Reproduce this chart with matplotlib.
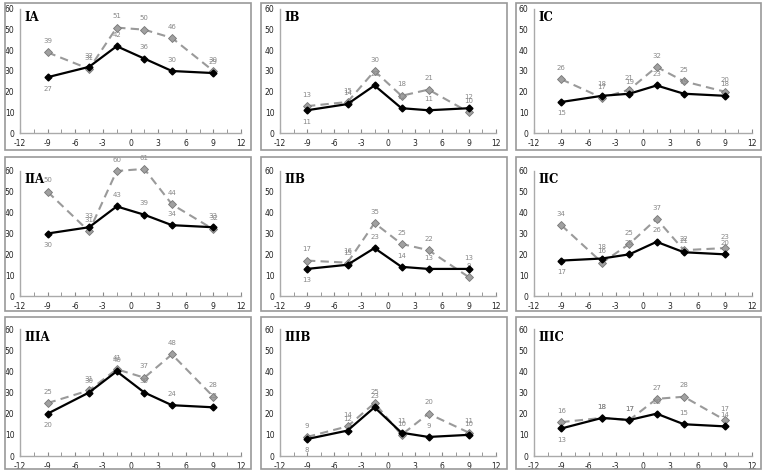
import matplotlib
matplotlib.use("Agg")
import matplotlib.pyplot as plt
from matplotlib.patches import Rectangle

plt.rcParams["axes.unicode_minus"] = False

x_pos = [-9, -4.5, -1.5, 1.5, 4.5, 9]
panel_names = ["IA", "IB", "IC", "IIA", "IIB", "IIC", "IIIA", "IIIB", "IIIC"]

solid_IA = [27, 32, 42, 36, 30, 29]
dashed_IA = [39, 31, 51, 50, 46, 30]
solid_IB = [11, 14, 23, 12, 11, 12]
dashed_IB = [13, 15, 30, 18, 21, 10]
solid_IC = [15, 18, 19, 23, 19, 18]
dashed_IC = [26, 17, 21, 32, 25, 20]
solid_IIA = [30, 33, 43, 39, 34, 33]
dashed_IIA = [50, 31, 60, 61, 44, 32]
solid_IIB = [13, 15, 23, 14, 13, 13]
dashed_IIB = [17, 16, 35, 25, 22, 9]
solid_IIC = [17, 18, 20, 26, 21, 20]
dashed_IIC = [34, 16, 25, 37, 22, 23]
solid_IIIA = [20, 30, 40, 30, 24, 23]
dashed_IIIA = [25, 31, 41, 37, 48, 28]
solid_IIIB = [8, 12, 23, 11, 9, 10]
dashed_IIIB = [9, 14, 25, 10, 20, 11]
solid_IIIC = [13, 18, 17, 20, 15, 14]
dashed_IIIC = [16, 18, 17, 27, 28, 17]

solids = [solid_IA, solid_IB, solid_IC, solid_IIA, solid_IIB, solid_IIC,
          solid_IIIA, solid_IIIB, solid_IIIC]
dasheds = [dashed_IA, dashed_IB, dashed_IC, dashed_IIA, dashed_IIB, dashed_IIC,
           dashed_IIIA, dashed_IIIB, dashed_IIIC]

W, H = 765, 473
fig = plt.figure(figsize=(W / 100, H / 100), dpi=100)
fig.patch.set_facecolor("white")

# pixel layout
cols = [(5, 251, 20, 241), (261, 507, 280, 496), (516, 761, 534, 752)]
rows = [(3, 150, 9, 133), (157, 311, 171, 296), (317, 469, 329, 456)]

for i, name in enumerate(panel_names):
    r, c = divmod(i, 3)
    bl, br, al, ar = cols[c]
    bt, bb, at, ab = rows[r]
    fig.patches.append(Rectangle((bl / W, 1 - bb / H), (br - bl) / W, (bb - bt) / H,
                                 transform=fig.transFigure, fill=False,
                                 edgecolor="#999999", lw=1.2, zorder=0))
    ax = fig.add_axes([al / W, 1 - ab / H, (ar - al) / W, (ab - at) / H])
    ax.set_facecolor("none")
    ax.set_xlim(-12, 12)
    ax.set_ylim(0, 60)
    for s in ["top", "right"]:
        ax.spines[s].set_visible(False)
    for s in ["left", "bottom"]:
        ax.spines[s].set_color("#aaaaaa")
        ax.spines[s].set_linewidth(1.0)
    ax.set_xticks(range(-12, 13, 3))
    ax.set_xticks([v / 2 for v in range(-21, 24, 6)], minor=True)
    ax.set_yticks(range(0, 61, 10))
    ax.tick_params(axis="x", which="both", direction="in", length=3, color="#888888",
                   labelsize=5.5, pad=4, labelcolor="#222222")
    ax.tick_params(axis="y", length=0, labelsize=5.5, pad=4, labelcolor="#222222")

    sv = solids[i]
    dv = dasheds[i]
    ax.plot(x_pos, dv, color="#9a9a9a", lw=1.5, ls=(0, (4, 2.5)), marker="D",
            markersize=4.5, markerfacecolor="#a0a0a0", markeredgecolor="#777777",
            markeredgewidth=0.6, zorder=3, clip_on=False)
    ax.plot(x_pos, sv, color="black", lw=1.6, marker="D", markersize=3.5,
            markerfacecolor="black", markeredgecolor="black", zorder=4, clip_on=False)
    for xv, yv in zip(x_pos, dv):
        ax.annotate(str(yv), (xv, yv), xytext=(0, 6), textcoords="offset points",
                    ha="center", va="bottom", fontsize=5, color="#888888",
                    annotation_clip=False)
    for j, (xv, yv) in enumerate(zip(x_pos, sv)):
        if j == 0:
            ax.annotate(str(yv), (xv, yv), xytext=(0, -6), textcoords="offset points",
                        ha="center", va="top", fontsize=5, color="#888888",
                        annotation_clip=False)
        else:
            ax.annotate(str(yv), (xv, yv), xytext=(0, 6), textcoords="offset points",
                        ha="center", va="bottom", fontsize=5, color="#888888",
                        annotation_clip=False)
    ax.text(0.02, 0.985, name, transform=ax.transAxes, ha="left", va="top",
            fontsize=8.5, fontweight="bold", family="DejaVu Serif", color="black")

fig.savefig("out.png", dpi=100, facecolor="white")
